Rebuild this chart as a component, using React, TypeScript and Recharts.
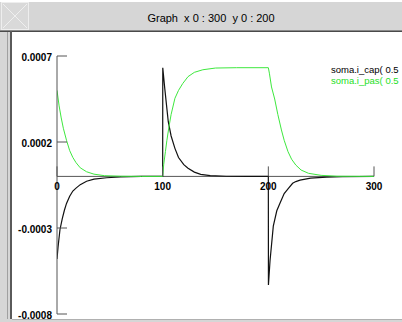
import { LineChart, Line, XAxis, YAxis, ReferenceLine, Legend } from "recharts";

// soma.i_cap(0.5)
const CAP_T = [0, 1, 2.8, 5, 7, 9, 12, 15, 18, 22, 28, 35, 47, 60, 80, 100, 100.1, 102, 105.3, 108, 111.6, 115, 120, 124, 130, 136, 145, 160, 180, 200, 200.1, 201.6, 204.7, 208, 211, 215, 219, 223, 226, 230, 240, 255, 270, 300];
const CAP_V = [-0.00048, -0.00041, -0.00031, -0.000245, -0.000197, -0.000157, -0.000115, -0.000085, -0.000068, -0.000048, -0.000028, -0.000016, -0.000008, -0.000003, 0, 0, 0.000632, 0.00051, 0.000318, 0.000235, 0.000163, 0.00011, 0.000068, 0.000047, 0.000025, 0.000012, 0.000005, 0.000001, 0, 0, -0.000631, -0.00049, -0.000289, -0.0002, -0.000156, -0.0001, -0.00007, -0.00004, -0.00003, -0.000022, -0.00001, -0.000004, -0.000002, 0];

// soma.i_pas(0.5)
const PAS_T = [0, 2, 4, 6, 9, 12, 15, 18, 22, 28, 35, 45, 60, 80, 100, 101, 102.6, 104, 106, 108, 111.6, 115, 119, 124, 130, 138, 150, 170, 200, 201, 203, 206, 209, 212.4, 215, 218.6, 222, 226, 231, 238, 250, 265, 300];
const PAS_V = [0.0005, 0.00041, 0.00034, 0.00028, 0.00021, 0.00015, 0.00011, 0.00008, 0.00005, 0.000027, 0.000013, 0.000004, 0.000001, 0, 0, 0.00007, 0.000144, 0.00021, 0.00029, 0.00036, 0.000454, 0.0005, 0.00054, 0.00058, 0.000605, 0.00062, 0.00063, 0.000632, 0.000632, 0.0006, 0.00052, 0.00045, 0.00036, 0.00027, 0.00021, 0.000144, 0.0001, 0.000066, 0.000037, 0.000018, 0.000006, 0.000001, 0];

const X_TICKS = [0, 100, 200, 300];
const Y_TICKS = [-0.0008, -0.0003, 0.0002, 0.0007];
const X_DOMAIN = [0, 300];
const Y_MIN = -0.0008;
const Y_MAX = 0.0007;

const capData = CAP_T.map((t, i) => ({ t, v: CAP_V[i] }));
const pasData = PAS_T.map((t, i) => ({ t, v: PAS_V[i] }));

const W = 402;
const H = 322;
const X_AXIS_H = 8;
const MARGIN = { top: 56, right: 28, bottom: 0, left: 0 };
const Y_AXIS_W = 57;
const PLOT_H = H - MARGIN.top - MARGIN.bottom - X_AXIS_H;
const ZERO_Y = MARGIN.top + (PLOT_H * Y_MAX) / (Y_MAX - Y_MIN);

const FONT = '"Liberation Sans", Arial, Helvetica, sans-serif';
const AXIS = "#555";
const GREEN = "#3ee83e";

function YTick({ x, y, payload }: any) {
  return (
    <g>
      <line x1={x} x2={x + 10} y1={y} y2={y} stroke={AXIS} />
      <text x={x - 5} y={y + 4.5} textAnchor="end" fontSize={10} fontWeight="bold" fontFamily={FONT} fill="#000">
        {String(payload.value)}
      </text>
    </g>
  );
}

function XTick({ x, payload }: any) {
  return (
    <g>
      <line x1={x} x2={x} y1={ZERO_Y} y2={ZERO_Y - 10} stroke={AXIS} />
      <text x={x} y={ZERO_Y + 14} textAnchor="middle" fontSize={10} fontWeight="bold" fontFamily={FONT} fill="#000">
        {String(payload.value)}
      </text>
    </g>
  );
}

function LegendBox({ payload }: any) {
  return (
    <div style={{ fontFamily: FONT, fontSize: 9.5, lineHeight: "10.5px", whiteSpace: "nowrap" }}>
      {(payload || []).map((p: any) => (
        <div key={p.value} style={{ color: p.color === "#111" ? "#000" : "#1ee01e", height: 10.5 }}>
          {p.value}
        </div>
      ))}
    </div>
  );
}

function Frame() {
  return (
    <svg width={W} height={H} style={{ position: "absolute", left: 0, top: 0 }}>
      <rect x={0} y={0} width={W} height={H} fill="#fff" />
      <rect x={0} y={2} width={W} height={28} fill="#d6d6d6" />
      <rect x={0} y={30} width={W} height={1} fill="#8a8a8a" />
      <rect x={0} y={31} width={W} height={1} fill="#4a4a4a" />
      <rect x={0} y={32} width={10} height={H - 32} fill="#d6d6d6" />
      <rect x={7} y={32} width={1} height={H - 32} fill="#a0a0a0" />
      <rect x={10} y={31} width={2} height={H - 31} fill="#5a5a5a" />
      <rect x={0} y={319} width={W} height={3} fill="#d6d6d6" />
      <rect x={12} y={319} width={W - 12} height={1} fill="#b0b0b0" />
      <rect x={1.5} y={2.5} width={27} height={27} fill="#d9d9d9" stroke="#eeeeee" />
      <line x1={3} y1={4} x2={27} y2={28} stroke="#efefef" />
      <line x1={27} y1={4} x2={3} y2={28} stroke="#efefef" />
      <text x={211} y={22} textAnchor="middle" fontSize={11} fontFamily={FONT} fill="#000" style={{ whiteSpace: "pre" }}>
        {"Graph  x 0 : 300  y 0 : 200"}
      </text>
    </svg>
  );
}

export default function App() {
  return (
    <div style={{ position: "absolute", left: 0, top: 0, width: W, height: H, overflow: "hidden" }}>
      <Frame />
      <div style={{ position: "absolute", left: 0, top: 0 }}>
        <LineChart width={W} height={H} margin={MARGIN}>
          <XAxis
            type="number"
            dataKey="t"
            domain={X_DOMAIN}
            ticks={X_TICKS}
            interval={0}
            height={X_AXIS_H}
            tickSize={0}
            tickMargin={0}
            axisLine={false}
            tickLine={false}
            tick={<XTick />}
            allowDataOverflow
          />
          <YAxis
            type="number"
            dataKey="v"
            domain={[Y_MIN, Y_MAX]}
            ticks={Y_TICKS}
            interval={0}
            width={Y_AXIS_W}
            tickSize={0}
            tickMargin={0}
            axisLine={{ stroke: AXIS }}
            tickLine={false}
            tick={<YTick />}
            allowDataOverflow
          />
          <ReferenceLine y={0} stroke={AXIS} />
          <Legend
            layout="vertical"
            align="center"
            verticalAlign="middle"
            content={<LegendBox />}
            wrapperStyle={{ left: 331, top: 65, width: 90, bottom: "auto", right: "auto" }}
          />
          <Line
            data={capData}
            dataKey="v"
            name="soma.i_cap( 0.5"
            stroke="#111"
            strokeWidth={1.2}
            dot={false}
            isAnimationActive={false}
          />
          <Line
            data={pasData}
            dataKey="v"
            name="soma.i_pas( 0.5"
            stroke={GREEN}
            strokeWidth={1}
            dot={false}
            isAnimationActive={false}
          />
        </LineChart>
      </div>
    </div>
  );
}
